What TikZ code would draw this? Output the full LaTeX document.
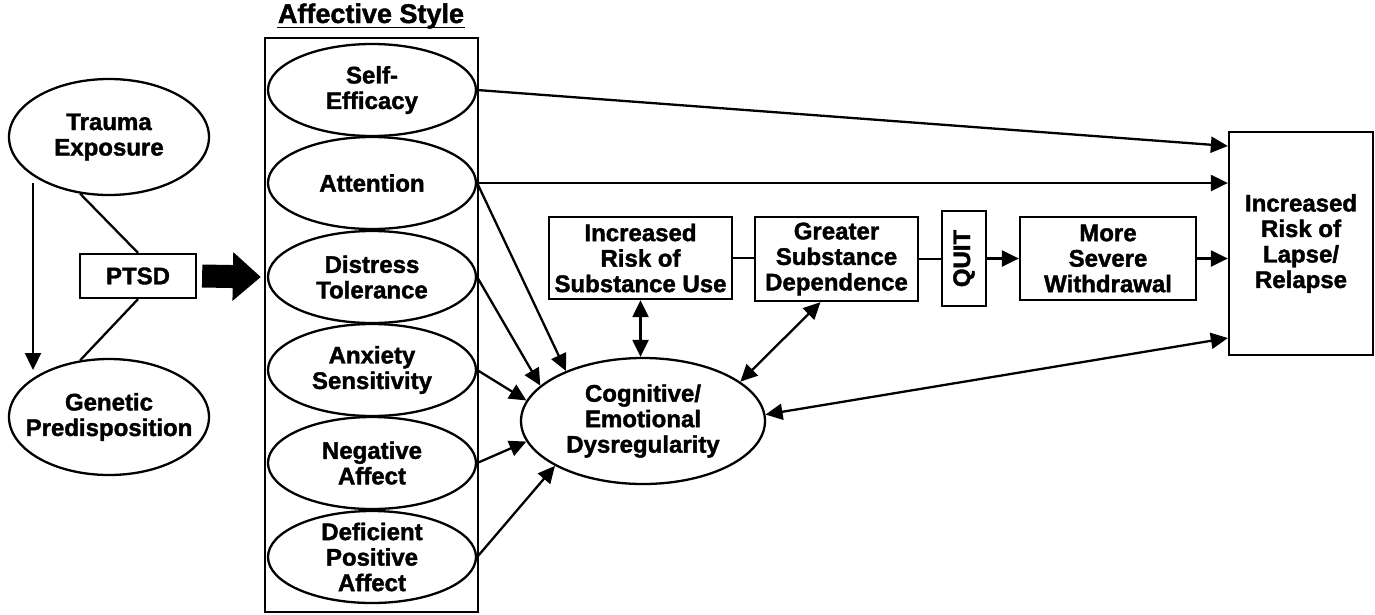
\documentclass[tikz,border=0pt]{standalone}
\usepackage{fontspec}
\setmainfont{Liberation Sans}[BoldFeatures={FakeBold=1.6}]
\usetikzlibrary{shapes.geometric,arrows.meta}
\begin{document}
\begin{tikzpicture}[x=1pt,y=-1pt, line width=2.3pt,
  every node/.style={font=\bfseries\fontsize{24}{25.5}\selectfont, align=center, inner sep=0pt},
  ell/.style={draw, ellipse, inner xsep=-25pt, inner ysep=-14pt, minimum width=208pt, minimum height=92pt},
  bigell/.style={draw, ellipse, inner xsep=-25pt, inner ysep=-10pt, minimum width=200pt, minimum height=116pt},
  box/.style={draw, rectangle},
  arr/.style={-{Triangle[length=17pt,width=16pt]}},
  darr/.style={{Triangle[length=17pt,width=16pt]}-{Triangle[length=17pt,width=16pt]}},
  fat/.style={line width=23pt, -{Triangle[length=28pt,width=47pt]}}]
\useasboundingbox (0,0) rectangle (1375,614);
\clip (0,0) rectangle (1375,614);
% left side
\node[bigell] (te) at (109,137) {Trauma\\Exposure};
\node[bigell] (gp) at (109,417) {Genetic\\Predisposition};
\node[box, minimum width=116pt, minimum height=44pt] (ptsd) at (138,276) {PTSD};
\coordinate (ta) at (33,183);
\coordinate (tb) at (33,370);
% affective style column
\node[draw, minimum width=213pt, minimum height=574pt] (col) at (371.5,325) {};
\node[anchor=base, font=\bfseries\fontsize{27}{28}\selectfont] (title) at (371,23) {Affective Style};
\draw[line width=1.6pt] ([yshift=-4.5pt]title.base west) -- ([yshift=-4.5pt]title.base east);
\node[ell] (se)  at (372,90)  {Self-\\Efficacy};
\node[ell] (att) at (372,183) {Attention};
\node[ell] (dt)  at (372,277) {Distress\\Tolerance};
\node[ell] (anx) at (372,370) {Anxiety\\Sensitivity};
\node[ell] (na)  at (372,463) {Negative\\Affect};
\node[ell] (dpa) at (372,557) {Deficient\\Positive\\Affect};
% middle
\node[draw, ellipse, inner xsep=-20pt, inner ysep=-8pt, minimum width=244pt, minimum height=126pt] (cog) at (643,421) {Cognitive/\\Emotional\\Dysregularity};
\node[box, minimum width=183pt, minimum height=82pt] (irsu) at (640.5,258) {Increased\\Risk of\\Substance Use};
\node[box, minimum width=163pt, minimum height=84pt] (gsd) at (836.5,259) {Greater\\Substance\\Dependence};
\node[box, minimum width=44pt, minimum height=95pt] (quit) at (964,258.5) {\rotatebox{90}{QUIT}};
\node[box, minimum width=176pt, minimum height=83pt] (msw) at (1108,258.5) {More\\Severe\\Withdrawal};
\node[box, minimum width=144pt, minimum height=223pt] (lapse) at (1301,243.5) {Increased\\Risk of\\Lapse/\\Relapse};
% connectors
\draw (te.243) -- (ptsd.north);
\draw (ptsd.south) -- (gp.117);
\draw[arr] (ta) -- (tb);
\draw[fat] ([xshift=5pt]ptsd.east) -- ([xshift=-6pt]dt.west);
\draw[arr] (se.east) -- ([yshift=97.5pt]lapse.west);
\draw[arr] (att.east) -- (att.east -| lapse.west);
\draw[arr] (msw.east) -- (msw.east -| lapse.west);
\draw (irsu.east) -- (irsu.east -| gsd.west);
\draw (gsd.east) -- (gsd.east -| quit.west);
\draw[arr] (quit.east) -- (quit.east -| msw.west);
\draw[darr] (irsu.south) -- (irsu.south |- cog.north);
\draw[darr] ([xshift=-16pt]gsd.south) -- (cog.22);
\draw[darr] ([yshift=-94.5pt]lapse.west) -- (cog.3);
\draw[arr] (att.east) -- (cog.147);
\draw[arr] (dt.east) -- (cog.161);
\draw[arr] (anx.east) -- (cog.170);
\draw[arr] (na.east) -- (cog.190);
\draw[arr] (dpa.east) -- (cog.207);
\end{tikzpicture}
\end{document}
